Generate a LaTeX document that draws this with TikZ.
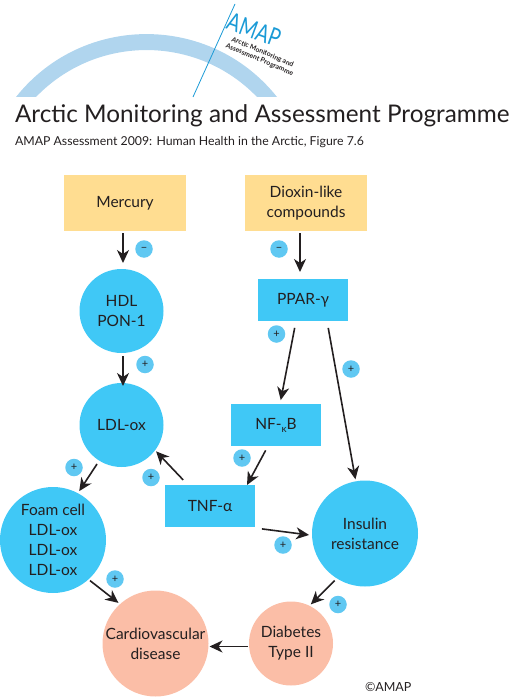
\documentclass[tikz,border=0pt]{standalone}
\usepackage{fontspec}
\setmainfont[Ligatures=TeX,Contextuals=NoAlternate]{Lato}
\usepackage{xcolor}
\usepackage{tikz}
\usetikzlibrary{arrows.meta, positioning}
\definecolor{corCiano}{RGB}{64, 200, 246}
\definecolor{corSinal}{RGB}{96, 200, 242}
\definecolor{corAreia}{RGB}{255, 221, 145}
\definecolor{corSalmao}{RGB}{251, 190, 167}
\definecolor{corArco}{RGB}{176, 213, 238}
\definecolor{corLogo}{RGB}{26, 154, 214}
\definecolor{corTexto}{RGB}{35, 31, 32}

\begin{document}
\begin{tikzpicture}[
    x=1pt, y=-1pt,
    every node/.style={text=corTexto, font=\fontsize{15.5}{20}\selectfont, align=center, inner sep=0pt, outer sep=0pt},
    fonte/.style={fill=corAreia, minimum width=122pt, minimum height=56pt},
    caixa/.style={fill=corCiano, minimum width=90pt, minimum height=42pt},
    bola/.style={circle, fill=corCiano, minimum size=84pt},
    bolaG/.style={circle, fill=corCiano, minimum size=106pt},
    sinal/.style={circle, fill=corSinal, minimum size=17.5pt, font=\fontsize{11}{11}\selectfont},
    seta/.style={-{Stealth[length=13pt, width=12pt, inset=4pt]}, line width=1.6pt, color=corTexto},
    txt/.style={anchor=base west}
]
\useasboundingbox (0,0) rectangle (512,698);

\fill[corArco] (16,97) .. controls (82.7,13.1) and (210.3,13.1) .. (277,97)
    -- (257,97) .. controls (196.6,34.4) and (96.4,34.4) .. (36,97) -- cycle;
\coordinate (logoA) at (193,97);
\coordinate (logoB) at (235,4);
\draw[corLogo, line width=0.8pt] (logoA) -- (logoB);

\node[rotate=-20, text=corLogo, font=\fontsize{19}{19}\selectfont] (logo) at (254,30) {\scalebox{1}[1.3]{AMAP}};
\node[rotate=-23, font=\fontsize{6.8}{8}\bfseries\selectfont] (logoTxt) at (261,56) {Arctic Monitoring and\\Assessment Programme};

\node[txt, font=\fontsize{24.3}{26}\selectfont] (titulo) at (15,122) {Arctic Monitoring and Assessment Programme};
\node[txt, font=\fontsize{12.3}{14}\selectfont] (sub) at (15,146) {AMAP Assessment 2009: Human Health in the Arctic, Figure 7.6};

\node[fonte] (Hg) at (125,203) {Mercury};
\node[fonte, right=59pt of Hg] (Dx) {Dioxin-like\\compounds};

\node[bola, below=38pt of Hg, xshift=-3.5pt] (HDL) {HDL\\PON-1};
\node[bola, below=30pt of HDL] (LDL) {LDL-ox};
\node[caixa, below=48pt of Dx, xshift=-3pt] (PPAR) {PPAR-γ};
\node[caixa, below=83pt of PPAR, xshift=-27pt] (NF) {NF-\raisebox{-3pt}{\fontsize{10}{10}\selectfont κ}B};
\node[caixa, below=39pt of NF, xshift=-66pt] (TNF) {TNF-α};
\node[bolaG] (Foam) at (53,540) {Foam cell\\LDL-ox\\LDL-ox\\LDL-ox};
\node[bolaG] (Ins) at (365,533.5) {Insulin\\resistance};
\node[bolaG, fill=corSalmao] (CVD) at (155.5,643.5) {Cardiovascular\\disease};
\node[bola, fill=corSalmao, right=40.5pt of CVD] (DM) {Diabetes\\Type II};

\draw[seta, shorten <=2pt, shorten >=6pt] ([xshift=-2pt]Hg.south) -- ([xshift=1.5pt]HDL.north);
\draw[seta, shorten <=2pt, shorten >=7pt] ([xshift=-6pt]Dx.south) -- ([xshift=-3pt]PPAR.north);
\draw[seta, shorten <=3pt, shorten >=-3pt] ([xshift=1.5pt]HDL.south) -- ([xshift=1.5pt]LDL.north);
\draw[seta, shorten <=7pt, shorten >=4pt] ([xshift=-7pt]PPAR.south) -- ([xshift=4pt]NF.north);
\draw[seta, shorten <=7pt, shorten >=2pt] ([xshift=24pt]PPAR.south) -- (Ins.100);
\draw[seta, shorten <=5pt, shorten >=0pt] ([xshift=-8pt]NF.south) -- ([xshift=37pt]TNF.north);
\draw[seta, shorten <=7pt, shorten >=1.5pt] ([xshift=-22pt]TNF.north) -- (LDL.-37);
\draw[seta, shorten <=4pt, shorten >=2.5pt] (LDL.-122) -- (Foam.62);
\draw[seta, shorten <=7pt, shorten >=3pt] ([yshift=-1pt]TNF.south east) -- (Ins.182);
\draw[seta, shorten <=2pt, shorten >=2pt] (Foam.-48) -- (CVD.132);
\draw[seta, shorten <=3pt, shorten >=2pt] (Ins.-122) -- (DM.64);
\draw[seta, shorten <=1pt, shorten >=1pt] ([yshift=-3pt]DM.west) -- ([yshift=-3pt]CVD.east);

\node[sinal] (s1) at (144,249) {\textminus};
\node[sinal] (s2) at (279,249) {\textminus};
\node[sinal] (s3) at (276.5,334) {+};
\node[sinal] (s4) at (145,364.5) {+};
\node[sinal] (s5) at (351,369) {+};
\node[sinal] (s6) at (242,458) {+};
\node[sinal] (s7) at (74,467.5) {+};
\node[sinal] (s8) at (151,477.5) {+};
\node[sinal] (s9) at (283,545) {+};
\node[sinal] (s10) at (115,579) {+};
\node[sinal] (s11) at (338,604.5) {+};

\node[txt, font=\fontsize{12.5}{13}\selectfont] (copia) at (365,691) {©AMAP};

\end{tikzpicture}
\end{document}
